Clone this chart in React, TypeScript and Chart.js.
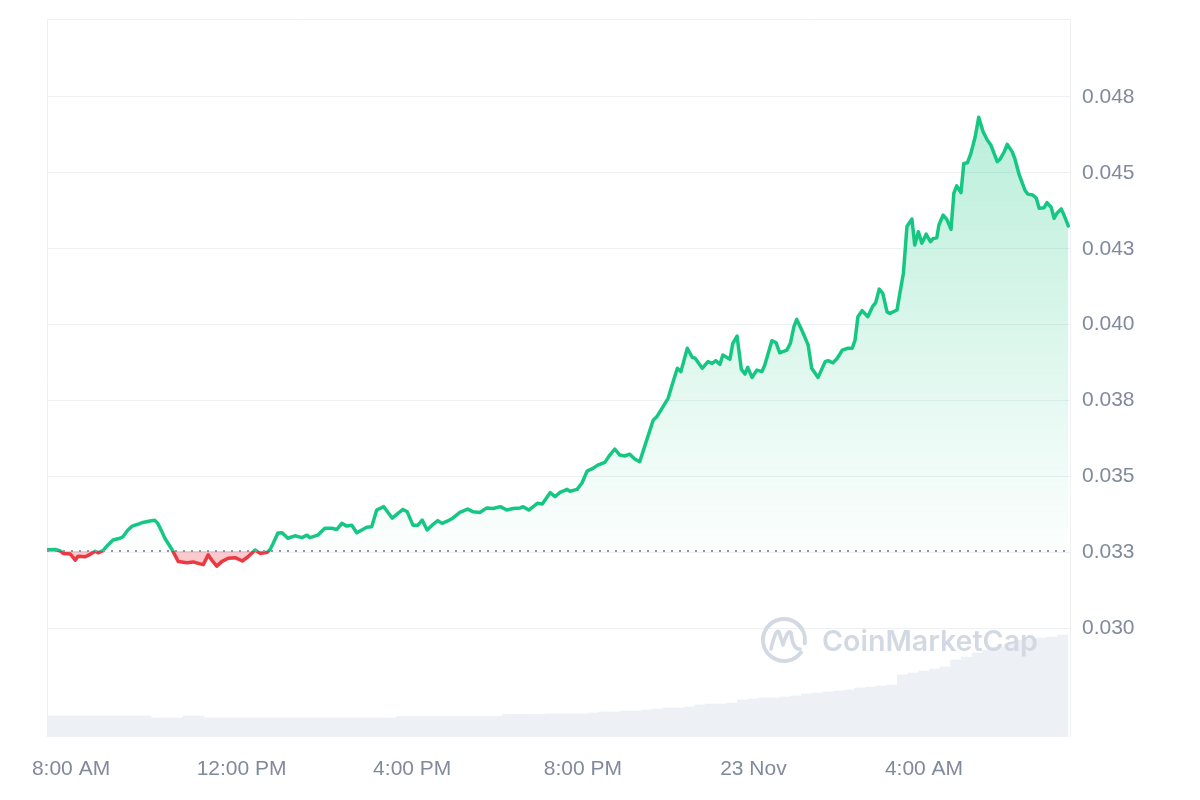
import React, { useEffect, useRef } from "react";
import { Chart, registerables } from "chart.js";

Chart.register(...registerables);

// Price series: time (minutes after midnight, 22 Nov) and price in USD
const minutesFromMidnight = [
  446, 458, 465, 469, 479, 486, 490, 500, 507, 514, 518, 525, 532, 539, 549, 553, 560, 566, 574, 581,
  591, 598, 602, 608, 612, 616, 622, 626, 631, 643, 652, 659, 666, 673, 678, 685, 692, 701, 711, 721,
  729, 739, 746, 756, 760, 764, 771, 777, 785, 795, 805, 812, 816, 823, 827, 837, 847, 854, 861, 868,
  875, 882, 889, 896, 903, 910, 920, 932, 940, 947, 953, 961, 968, 974, 981, 988, 996, 1002, 1010, 1017,
  1027, 1038, 1046, 1055, 1065, 1074, 1084, 1093, 1102, 1112, 1116, 1124, 1136, 1143, 1154, 1161, 1168, 1178, 1182, 1192,
  1199, 1206, 1214, 1221, 1231, 1238, 1245, 1252, 1259, 1266, 1273, 1280, 1290, 1299, 1304, 1309, 1320, 1327, 1333, 1338,
  1347, 1354, 1358, 1368, 1376, 1382, 1387, 1393, 1397, 1407, 1411, 1417, 1423, 1428, 1432, 1438, 1445, 1452, 1456, 1466,
  1472, 1477, 1487, 1492, 1497, 1501, 1508, 1517, 1522, 1531, 1541, 1545, 1552, 1558, 1565, 1573, 1579, 1583, 1587, 1593,
  1601, 1608, 1612, 1617, 1622, 1628, 1632, 1642, 1646, 1651, 1656, 1663, 1667, 1672, 1677, 1683, 1689, 1693, 1698, 1701,
  1707, 1712, 1718, 1722, 1726, 1732, 1736, 1741, 1746, 1752, 1757, 1763, 1769, 1774, 1783, 1787, 1793, 1797, 1804, 1808,
  1814, 1822, 1826, 1833, 1838, 1842, 1849, 1853, 1859, 1863, 1867, 1873, 1877, 1883,
];

const prices = [
  0.03258, 0.03259, 0.03254, 0.03246, 0.03244, 0.03224, 0.03237, 0.03235, 0.03243, 0.03253, 0.03248, 0.03255, 0.03274, 0.0329, 0.03296, 0.03301, 0.03323, 0.03336, 0.03342, 0.03348,
  0.03353, 0.03355, 0.03345, 0.03317, 0.03296, 0.03281, 0.03259, 0.03241, 0.03219, 0.03215, 0.03218, 0.03213, 0.03209, 0.03241, 0.03224, 0.03204, 0.03219, 0.0323, 0.03232, 0.03221,
  0.03235, 0.03257, 0.03246, 0.0325, 0.03259, 0.03277, 0.03313, 0.03314, 0.03296, 0.03304, 0.03298, 0.03306, 0.03298, 0.03303, 0.03306, 0.03329, 0.03329, 0.03325, 0.03345, 0.03336,
  0.03339, 0.03314, 0.03323, 0.03332, 0.03334, 0.03389, 0.034, 0.03362, 0.03378, 0.03391, 0.03383, 0.03339, 0.03339, 0.03356, 0.03323, 0.03339, 0.03354, 0.03345, 0.03353, 0.03362,
  0.03381, 0.03392, 0.03383, 0.03381, 0.03396, 0.03394, 0.034, 0.03389, 0.03394, 0.03396, 0.034, 0.03389, 0.03411, 0.03409, 0.03446, 0.03433, 0.03447, 0.03457, 0.03451, 0.03457,
  0.03479, 0.03517, 0.03526, 0.03537, 0.03546, 0.0357, 0.0359, 0.0357, 0.03567, 0.03573, 0.03557, 0.03548, 0.0362, 0.03685, 0.03696, 0.03715, 0.03757, 0.03812, 0.03856, 0.03845,
  0.03922, 0.03892, 0.03889, 0.03856, 0.03878, 0.03872, 0.03881, 0.03869, 0.039, 0.03886, 0.03938, 0.03962, 0.03853, 0.03837, 0.03859, 0.03826, 0.0385, 0.03845, 0.03867, 0.03947,
  0.0394, 0.03907, 0.03916, 0.03938, 0.03993, 0.04017, 0.03982, 0.03933, 0.03856, 0.03826, 0.03878, 0.03881, 0.03874, 0.03889, 0.03916, 0.03922, 0.03922, 0.03949, 0.04026, 0.04046,
  0.04026, 0.04061, 0.04072, 0.04117, 0.04103, 0.04042, 0.04037, 0.04048, 0.04103, 0.04169, 0.04323, 0.04348, 0.04262, 0.04306, 0.04268, 0.04298, 0.04273, 0.04284, 0.04286, 0.04328,
  0.04361, 0.04347, 0.04314, 0.04433, 0.04457, 0.04435, 0.04531, 0.04533, 0.04564, 0.04619, 0.04683, 0.04636, 0.04608, 0.04592, 0.04537, 0.04545, 0.0457, 0.04594, 0.0457, 0.04545,
  0.04493, 0.04443, 0.0443, 0.04427, 0.04416, 0.04383, 0.04385, 0.04402, 0.04386, 0.0435, 0.04367, 0.04381, 0.04361, 0.04325,
];

// Opening price of the window (dotted reference line)
const openPrice = 0.03254;

// Volume bars (millions USD), one per 15 minutes starting at 7:30 AM
const volumeStartMinute = 450;
const volumeStepMinutes = 15;
const volumes = [
  2.1, 2.1, 2.1, 2.1, 2.1, 2.1, 2.1, 2.1, 2.1, 2.1,
  1.9, 1.9, 1.9, 2.1, 2.1,
  1.9, 1.9, 1.9, 1.9, 1.9, 1.9, 1.9, 1.9, 1.9, 1.9, 1.9, 1.9, 1.9, 1.9, 1.9, 1.9, 1.9, 1.9,
  2.05, 2.05, 2.05, 2.05, 2.05, 2.05, 2.05, 2.05, 2.05, 2.05,
  2.25, 2.25, 2.25, 2.25,
  2.3, 2.3, 2.3, 2.3,
  2.4, 2.5, 2.5, 2.6, 2.6, 2.7,
  2.8, 2.9, 2.9, 3.0,
  3.2, 3.3, 3.3, 3.4,
  3.7, 3.8, 3.9, 3.9, 4.0, 4.1,
  4.3, 4.4, 4.5, 4.6, 4.7,
  4.9, 5.0, 5.1, 5.2,
  6.2, 6.4, 6.6, 6.8, 7.0,
  7.7, 8.0, 8.4,
  8.7, 9.0, 9.3,
  9.7, 9.8, 9.9, 10.0,
  10.2,
];

// Axis ticks
const timeTicks = [480, 720, 960, 1200, 1440, 1680];
const timeTickLabels = ["8:00 AM", "12:00 PM", "4:00 PM", "8:00 PM", "23 Nov", "4:00 AM"];
const priceTicks = [0.03, 0.0325, 0.035, 0.0375, 0.04, 0.0425, 0.045, 0.0475];
const priceTickLabels = ["0.030", "0.033", "0.035", "0.038", "0.040", "0.043", "0.045", "0.048"];

// Visible window
const timeMin = 446.2;
const timeMax = 1886.8;
const priceMin = 0.02641;
const priceMax = 0.05007;
const volumeAxisMax = 71.8;

const GREEN = "#16c784";
const RED = "#ea3943";
const TEXT = "#808a9d";
const GRID = "#eef0f3";
const FONT = "'Liberation Sans', Arial, Helvetica, sans-serif";

function splitGradient(chart: any, kind: "line" | "fill") {
  const { ctx, chartArea, scales } = chart;
  if (!chartArea || !scales || !scales.y) return kind === "line" ? GREEN : "rgba(22,199,132,0.2)";
  const top = chartArea.top;
  const bottom = chartArea.bottom;
  const yb = scales.y.getPixelForValue(openPrice);
  const f = Math.min(Math.max((yb - top) / (bottom - top), 0), 1);
  const g = ctx.createLinearGradient(0, top, 0, bottom);
  if (kind === "line") {
    g.addColorStop(0, GREEN);
    g.addColorStop(f, GREEN);
    g.addColorStop(f, RED);
    g.addColorStop(1, RED);
  } else {
    g.addColorStop(0, "rgba(22,199,132,0.36)");
    g.addColorStop(f, "rgba(22,199,132,0.01)");
    g.addColorStop(f, "rgba(234,57,67,0.27)");
    g.addColorStop(1, "rgba(234,57,67,0.27)");
  }
  return g;
}

const framePlugin = {
  id: "frameAndWatermark",
  beforeDatasetsDraw(chart: any) {
    const { ctx, chartArea: a } = chart;
    ctx.save();
    ctx.strokeStyle = GRID;
    ctx.lineWidth = 1;
    ctx.beginPath();
    ctx.moveTo(a.left + 0.5, a.bottom);
    ctx.lineTo(a.left + 0.5, a.top + 0.5);
    ctx.lineTo(a.right - 0.5, a.top + 0.5);
    ctx.lineTo(a.right - 0.5, a.bottom);
    ctx.stroke();
    ctx.restore();
  },
  afterDatasetsDraw(chart: any) {
    const { ctx, chartArea: a } = chart;
    // dotted line at the opening price
    const y = Math.round(chart.scales.y.getPixelForValue(openPrice));
    ctx.save();
    ctx.setLineDash([2, 6]);
    ctx.strokeStyle = "#8f96a3";
    ctx.lineWidth = 2;
    ctx.beginPath();
    ctx.moveTo(a.left, y);
    ctx.lineTo(a.right, y);
    ctx.stroke();
    ctx.restore();

    // watermark
    const cx = a.right - 287;
    const cy = a.bottom - 97;
    const wm = "#d3d9e3";
    ctx.save();
    ctx.strokeStyle = wm;
    ctx.fillStyle = wm;
    ctx.lineWidth = 4;
    ctx.lineCap = "round";
    ctx.lineJoin = "round";
    ctx.beginPath();
    ctx.arc(cx, cy, 21, 0.2 * Math.PI, 2.05 * Math.PI);
    ctx.stroke();
    ctx.lineWidth = 3.6;
    ctx.beginPath();
    ctx.moveTo(cx - 13, cy + 9);
    ctx.quadraticCurveTo(cx - 8, cy - 12, cx - 5, cy - 8);
    ctx.lineTo(cx - 1, cy + 5);
    ctx.quadraticCurveTo(cx + 4, cy - 12, cx + 7, cy - 7);
    ctx.quadraticCurveTo(cx + 9, cy + 10, cx + 16, cy + 9);
    ctx.stroke();
    let size = 27;
    ctx.font = `600 ${size}px Inter, 'Noto Sans', sans-serif`;
    const w = ctx.measureText("CoinMarketCap").width;
    size = size * 216 / w;
    ctx.font = `600 ${size}px Inter, 'Noto Sans', sans-serif`;
    ctx.textBaseline = "alphabetic";
    ctx.fillText("CoinMarketCap", cx + 38, cy + 11);
    ctx.restore();
  },
};

export default function App() {
  const canvasRef = useRef<HTMLCanvasElement>(null);

  useEffect(() => {
    const canvas = canvasRef.current;
    if (!canvas) return;
    const pricePoints = minutesFromMidnight.map((t, i) => ({ x: t, y: prices[i] }));
    const volumePoints = volumes.map((v, i) => ({ x: volumeStartMinute + i * volumeStepMinutes, y: v }));

    const chart = new Chart(canvas, {
      type: "line",
      data: {
        datasets: [
          {
            type: "line",
            label: "Price",
            data: pricePoints,
            xAxisID: "x",
            yAxisID: "y",
            borderWidth: 3.5,
            pointRadius: 0,
            tension: 0,
            borderJoinStyle: "round",
            borderCapStyle: "round",
            borderColor: (c: any) => splitGradient(c.chart, "line"),
            backgroundColor: (c: any) => splitGradient(c.chart, "fill"),
            fill: { target: { value: openPrice } },
            order: 0,
          } as any,
          {
            type: "bar",
            label: "Volume",
            data: volumePoints,
            xAxisID: "x",
            yAxisID: "vol",
            backgroundColor: "#edf0f4",
            barPercentage: 1,
            categoryPercentage: 1,
            borderWidth: 0,
            order: 2,
          } as any,
        ],
      },
      options: {
        responsive: true,
        maintainAspectRatio: false,
        animation: false,
        layout: { padding: { left: 47, top: 19, right: 0, bottom: 0 } },
        plugins: {
          legend: { display: false },
          tooltip: { enabled: false },
        },
        scales: {
          x: {
            type: "linear",
            min: timeMin,
            max: timeMax,
            offset: false,
            grid: { display: false },
            border: { display: false },
            afterBuildTicks: (s: any) => {
              s.ticks = timeTicks.map((v) => ({ value: v }));
            },
            afterFit: (s: any) => {
              s.height = 63;
              s.paddingLeft = 0;
              s.paddingRight = 0;
            },
            ticks: {
              autoSkip: false,
              maxRotation: 0,
              padding: 12,
              color: TEXT,
              font: { family: FONT, size: 21 },
              callback: (_v: any, i: number) => timeTickLabels[i] ?? "",
            },
          },
          y: {
            type: "linear",
            position: "right",
            min: priceMin,
            max: priceMax,
            grid: { color: GRID, lineWidth: 1, drawTicks: false },
            border: { display: false },
            afterBuildTicks: (s: any) => {
              s.ticks = priceTicks.map((v) => ({ value: v }));
            },
            afterFit: (s: any) => {
              s.width = 129;
              s.paddingTop = 0;
              s.paddingBottom = 0;
            },
            ticks: {
              padding: 11,
              color: TEXT,
              font: { family: FONT, size: 21 },
              callback: (_v: any, i: number) => priceTickLabels[i] ?? "",
            },
          },
          vol: {
            type: "linear",
            display: false,
            min: 0,
            max: volumeAxisMax,
          },
        },
      } as any,
      plugins: [framePlugin],
    });
    return () => chart.destroy();
  }, []);

  return (
    <div style={{ position: "fixed", left: 0, top: 0, width: 1200, height: 800, background: "#fff" }}>
      <canvas ref={canvasRef} />
    </div>
  );
}
